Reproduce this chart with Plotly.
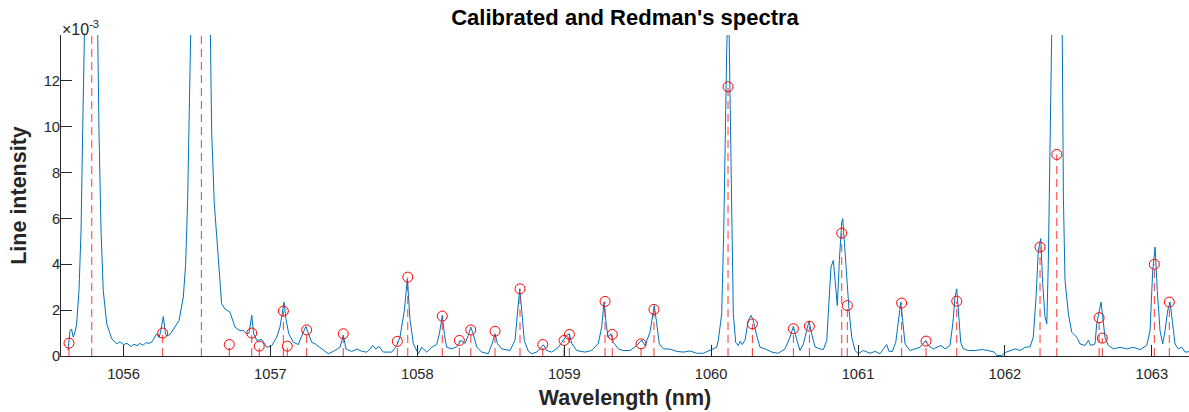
import plotly.graph_objects as go

# ---------------- data ----------------
# Calibrated spectrum (wavelength in nm, intensity in units of 1e-3)
wavelength_nm = [
    1055.622, 1055.636, 1055.646, 1055.658, 1055.670, 1055.681, 1055.697, 1055.711, 1055.722, 1055.733,
    1055.779, 1055.824, 1055.833, 1055.847, 1055.862, 1055.886, 1055.920, 1055.954, 1055.976, 1056.000,
    1056.024, 1056.051, 1056.071, 1056.092, 1056.112, 1056.133, 1056.153, 1056.174, 1056.194, 1056.226,
    1056.242, 1056.252, 1056.271, 1056.286, 1056.296, 1056.317, 1056.351, 1056.378, 1056.407, 1056.423,
    1056.437, 1056.451, 1056.458, 1056.521, 1056.591, 1056.600, 1056.618, 1056.645, 1056.668, 1056.691,
    1056.725, 1056.759, 1056.793, 1056.813, 1056.839, 1056.854, 1056.865, 1056.873, 1056.885, 1056.907,
    1056.941, 1056.975, 1057.009, 1057.043, 1057.065, 1057.084, 1057.093, 1057.106, 1057.125, 1057.156,
    1057.190, 1057.224, 1057.242, 1057.258, 1057.281, 1057.304, 1057.338, 1057.365, 1057.394, 1057.428,
    1057.474, 1057.496, 1057.515, 1057.553, 1057.590, 1057.624, 1057.656, 1057.678, 1057.696, 1057.717,
    1057.739, 1057.769, 1057.826, 1057.860, 1057.882, 1057.912, 1057.932, 1057.950, 1057.973, 1058.007,
    1058.030, 1058.064, 1058.098, 1058.132, 1058.151, 1058.170, 1058.185, 1058.200, 1058.234, 1058.268,
    1058.297, 1058.325, 1058.347, 1058.364, 1058.381, 1058.404, 1058.438, 1058.483, 1058.507, 1058.529,
    1058.545, 1058.575, 1058.631, 1058.665, 1058.684, 1058.697, 1058.711, 1058.728, 1058.756, 1058.779,
    1058.813, 1058.842, 1058.858, 1058.881, 1058.915, 1058.960, 1058.994, 1059.017, 1059.035, 1059.051,
    1059.085, 1059.142, 1059.187, 1059.232, 1059.255, 1059.271, 1059.287, 1059.300, 1059.319, 1059.334,
    1059.368, 1059.402, 1059.448, 1059.494, 1059.528, 1059.550, 1059.584, 1059.602, 1059.613, 1059.628,
    1059.647, 1059.675, 1059.720, 1059.766, 1059.811, 1059.856, 1059.902, 1059.947, 1059.993, 1060.038,
    1060.049, 1060.072, 1060.086, 1060.095, 1060.106, 1060.118, 1060.124, 1060.131, 1060.140, 1060.151,
    1060.167, 1060.185, 1060.197, 1060.212, 1060.231, 1060.253, 1060.272, 1060.287, 1060.310, 1060.333,
    1060.367, 1060.413, 1060.457, 1060.503, 1060.537, 1060.560, 1060.583, 1060.605, 1060.628, 1060.651,
    1060.666, 1060.685, 1060.707, 1060.741, 1060.764, 1060.787, 1060.803, 1060.816, 1060.832, 1060.848,
    1060.859, 1060.873, 1060.889, 1060.896, 1060.907, 1060.923, 1060.939, 1060.957, 1060.980, 1061.002,
    1061.036, 1061.082, 1061.116, 1061.150, 1061.172, 1061.195, 1061.211, 1061.234, 1061.257, 1061.274,
    1061.291, 1061.304, 1061.320, 1061.354, 1061.388, 1061.422, 1061.461, 1061.479, 1061.513, 1061.543,
    1061.565, 1061.592, 1061.626, 1061.645, 1061.660, 1061.672, 1061.683, 1061.699, 1061.717, 1061.751,
    1061.797, 1061.842, 1061.885, 1061.928, 1061.944, 1061.978, 1062.001, 1062.035, 1062.069, 1062.103,
    1062.137, 1062.171, 1062.193, 1062.212, 1062.227, 1062.244, 1062.257, 1062.273, 1062.285, 1062.295,
    1062.307, 1062.319, 1062.355, 1062.390, 1062.398, 1062.409, 1062.432, 1062.455, 1062.489, 1062.511,
    1062.545, 1062.568, 1062.584, 1062.613, 1062.625, 1062.641, 1062.654, 1062.666, 1062.681, 1062.704,
    1062.738, 1062.784, 1062.829, 1062.874, 1062.920, 1062.965, 1062.988, 1063.006, 1063.022, 1063.037,
    1063.056, 1063.074, 1063.090, 1063.108, 1063.124, 1063.140, 1063.158, 1063.180, 1063.204, 1063.226,
    1063.253, 1063.273,
]
calibrated_e3 = [
    0.25, 1.10, 1.18, 0.82, 1.05, 1.40, 2.86, 5.50, 9.80, 14.3,
    30.0, 14.3, 9.80, 5.50, 2.86, 1.40, 0.75, 0.53, 0.62, 0.50,
    0.55, 0.41, 0.52, 0.45, 0.55, 0.47, 0.58, 0.55, 0.62, 0.97,
    0.80, 1.05, 1.72, 0.95, 0.88, 0.94, 1.26, 1.55, 2.57, 4.00,
    6.90, 11.3, 14.3, 32.0, 14.3, 9.80, 6.65, 4.30, 2.28, 2.05,
    1.91, 1.26, 1.10, 1.12, 0.97, 1.00, 1.50, 1.77, 1.00, 0.68,
    0.72, 0.38, 0.45, 0.82, 1.26, 1.99, 2.35, 1.60, 0.97, 0.60,
    0.50, 1.04, 1.29, 1.00, 0.60, 0.53, 0.38, 0.25, 0.10, 0.20,
    0.38, 0.90, 0.30, 0.20, 0.30, 0.20, 0.17, 0.30, 0.46, 0.30,
    0.42, 0.17, 0.17, 0.46, 0.82, 1.99, 3.37, 1.60, 0.53, 0.10,
    0.38, 0.17, 0.38, 0.50, 1.00, 1.77, 0.90, 0.38, 0.31, 0.40,
    0.68, 0.55, 0.90, 1.26, 0.95, 0.40, 0.17, 0.10, 0.50, 0.97,
    0.55, 0.31, 0.24, 0.68, 1.99, 2.93, 1.99, 0.68, 0.20, 0.10,
    0.17, 0.38, 0.49, 0.24, 0.17, 0.38, 0.68, 0.90, 0.97, 0.55,
    0.24, 0.17, 0.24, 0.55, 1.26, 2.35, 1.30, 0.82, 0.97, 0.60,
    0.31, 0.24, 0.24, 0.46, 0.70, 0.45, 1.04, 1.70, 2.20, 1.50,
    0.53, 0.31, 0.30, 0.20, 0.17, 0.22, 0.12, 0.12, 0.24, 0.38,
    0.68, 1.84, 5.50, 9.85, 13.3, 16.0, 13.3, 9.85, 5.50, 1.84,
    0.60, 0.45, 0.65, 0.50, 0.70, 1.55, 1.77, 1.55, 0.90, 0.38,
    0.31, 0.17, 0.12, 0.31, 0.82, 1.29, 0.70, 0.24, 0.53, 1.19,
    1.52, 0.95, 0.40, 0.31, 0.28, 0.68, 2.28, 3.88, 4.17, 3.15,
    2.20, 4.17, 5.84, 5.99, 4.90, 3.15, 1.99, 0.82, 0.24, 0.10,
    0.24, 0.12, 0.20, 0.10, 0.30, 0.50, 0.20, 0.20, 0.60, 1.55,
    2.35, 1.55, 0.53, 0.24, 0.31, 0.38, 0.68, 0.45, 0.31, 0.38,
    0.46, 0.31, 0.46, 1.40, 2.57, 2.93, 1.80, 0.60, 0.31, 0.24,
    0.24, 0.28, 0.24, 0.17, 0.02, 0.02, 0.15, 0.24, 0.31, 0.24,
    0.38, 0.40, 0.82, 2.57, 4.60, 5.12, 3.15, 1.70, 1.40, 4.00,
    9.85, 14.3, 30.0, 14.3, 6.93, 3.30, 1.84, 1.04, 0.82, 0.53,
    0.46, 0.68, 0.46, 0.53, 1.40, 1.99, 2.35, 1.70, 0.82, 0.46,
    0.31, 0.38, 0.31, 0.38, 0.28, 0.46, 1.10, 3.73, 4.75, 2.86,
    1.10, 0.53, 1.10, 1.99, 2.35, 1.50, 0.53, 0.31, 0.38, 0.17,
    0.17, 0.20,
]

# Redman's reference lines (wavelength in nm, intensity in units of 1e-3)
redman_nm = [
    1055.629, 1055.784, 1056.267, 1056.530, 1056.720, 1056.873, 1056.924, 1057.088, 1057.115, 1057.247,
    1057.496, 1057.864, 1057.935, 1058.170, 1058.286, 1058.364, 1058.529, 1058.699, 1058.854, 1058.999,
    1059.035, 1059.278, 1059.327, 1059.523, 1059.611, 1060.115, 1060.281, 1060.560, 1060.669, 1060.889,
    1060.927, 1061.297, 1061.463, 1061.672, 1062.239, 1062.353, 1062.641, 1062.663, 1063.017, 1063.119,
]
redman_e3 = [
    0.56, 25.0, 1.00, 25.0, 0.50, 1.00, 0.43, 1.96, 0.43, 1.14,
    0.97, 0.64, 3.44, 1.74, 0.68, 1.14, 1.08, 2.93, 0.50, 0.68,
    0.94, 2.38, 0.94, 0.53, 2.03, 11.74, 1.40, 1.19, 1.30, 5.36,
    2.20, 2.31, 0.65, 2.39, 4.75, 8.79, 1.67, 0.78, 4.00, 2.35,
]

x_ticks = [1056, 1057, 1058, 1059, 1060, 1061, 1062, 1063]
y_ticks_e3 = [0, 2, 4, 6, 8, 10, 12]
SCALE = 1e-3

# ---------------- figure ----------------
FONT = "Liberation Sans, Arial, Helvetica, sans-serif"
AX = "#262626"

spec_y = [v * SCALE for v in calibrated_e3]
red_y = [v * SCALE for v in redman_e3]

stem_x, stem_y = [], []
for lam, val in zip(redman_nm, red_y):
    stem_x += [lam, lam, None]
    stem_y += [0, val, None]

fig = go.Figure()
fig.add_trace(go.Scatter(x=wavelength_nm, y=spec_y, mode="lines",
                         line=dict(color="#0072BD", width=1), showlegend=False,
                         hoverinfo="skip"))
fig.add_trace(go.Scatter(x=stem_x, y=stem_y, mode="lines",
                         line=dict(color="rgba(255,30,30,0.9)", width=1, dash="8px,5px"),
                         showlegend=False, hoverinfo="skip"))
fig.add_trace(go.Scatter(x=redman_nm, y=red_y, mode="markers",
                         marker=dict(symbol="circle-open", size=10, color="#FF0000",
                                     line=dict(width=1, color="#FF0000")),
                         showlegend=False))

fig.update_layout(
    width=1189, height=412,
    margin=dict(l=61, r=0, t=35, b=56, autoexpand=False),
    paper_bgcolor="white", plot_bgcolor="white",
    font=dict(family=FONT, color=AX),
    title=dict(text="<b>Calibrated and Redman's spectra</b>",
               x=0.5, xref="paper", xanchor="center",
               y=1 - 17 / 412, yref="container", yanchor="middle",
               font=dict(size=22, color="black", family=FONT)),
    xaxis=dict(range=[1055.5745, 1063.253], tickvals=x_ticks,
               ticktext=[str(t) for t in x_ticks],
               ticks="inside", ticklen=11, tickwidth=1, tickcolor=AX,
               showline=True, linecolor=AX, linewidth=1,
               showgrid=False, zeroline=False, ticklabelstandoff=4,
               tickfont=dict(size=14.7, color=AX, family=FONT),
               title=dict(text="<b>Wavelength (nm)</b>",
                          font=dict(size=21.5, color=AX, family=FONT), standoff=9)),
    yaxis=dict(range=[0, 0.0140], tickvals=[v * SCALE for v in y_ticks_e3],
               ticktext=[str(t) for t in y_ticks_e3],
               ticks="inside", ticklen=11, tickwidth=1, tickcolor=AX,
               showline=True, linecolor=AX, linewidth=1,
               showgrid=False, zeroline=False, ticklabelstandoff=-3,
               tickfont=dict(size=14.7, color=AX, family=FONT),
               title=dict(text="<b>Line intensity</b>",
                          font=dict(size=21.5, color=AX, family=FONT), standoff=11)),
    annotations=[dict(text="\u00d710<sup>-3</sup>", x=0, xref="paper", xanchor="left",
                      y=1, yref="paper", yanchor="bottom", showarrow=False,
                      font=dict(size=16, color=AX, family=FONT), xshift=-1, yshift=-5)],
)

fig.write_html("out.html")
